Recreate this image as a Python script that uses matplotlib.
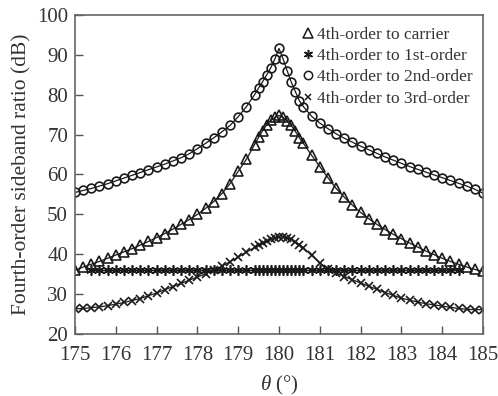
import matplotlib
matplotlib.use("Agg")
import matplotlib.pyplot as plt
from matplotlib.lines import Line2D

plt.rcParams['font.family'] = ['Liberation Serif', 'DejaVu Serif']
plt.rcParams['mathtext.fontset'] = 'custom'
plt.rcParams['mathtext.it'] = 'Liberation Serif:italic'
plt.rcParams['mathtext.rm'] = 'Liberation Serif'

theta = [175.0, 175.2, 175.4, 175.6, 175.8, 176.0, 176.2, 176.4, 176.6, 176.8,
         177.0, 177.2, 177.4, 177.6, 177.8, 178.0, 178.2, 178.4, 178.6, 178.8,
         179.0, 179.2, 179.4, 179.5, 179.6, 179.7, 179.8, 179.9, 180.0, 180.1,
         180.2, 180.3, 180.4, 180.5, 180.6, 180.8, 181.0, 181.2, 181.4, 181.6,
         181.8, 182.0, 182.2, 182.4, 182.6, 182.8, 183.0, 183.2, 183.4, 183.6,
         183.8, 184.0, 184.2, 184.4, 184.6, 184.8, 185.0]

to_carrier = [36.0, 36.8, 37.5, 38.2, 39.0, 39.8, 40.6, 41.4, 42.3, 43.2,
              44.2, 45.2, 46.3, 47.5, 48.7, 50.0, 51.5, 53.2, 55.2, 57.7,
              60.8, 63.8, 67.5, 69.3, 71.0, 72.5, 73.6, 74.3, 74.8, 74.3,
              73.5, 72.3, 70.8, 69.2, 67.8, 64.8, 62.0, 59.2, 56.5, 54.3,
              52.3, 50.5, 48.9, 47.5, 46.2, 45.0, 43.9, 42.8, 41.8, 40.8,
              39.9, 39.0, 38.2, 37.5, 36.8, 36.2, 35.7]

theta_1st = theta[2:54]
to_1st = [36.0, 36.0, 36.0, 36.0, 36.0, 36.0, 36.0, 36.0, 36.0, 36.0,
          36.0, 36.0, 36.0, 36.0, 36.0, 36.0, 36.0, 36.0, 36.0, 36.0,
          36.0, 36.0, 36.0, 36.0, 36.0, 36.0, 36.0, 36.0, 36.0, 36.0,
          36.0, 36.0, 36.0, 36.0, 36.0, 36.0, 36.0, 36.0, 36.0, 36.0,
          36.0, 36.0, 36.0, 36.0, 36.0, 36.0, 36.0, 36.0, 36.0, 36.0,
          36.0, 36.0]

to_2nd = [55.5, 56.0, 56.5, 57.1, 57.7, 58.4, 59.1, 59.8, 60.5, 61.2,
          61.9, 62.6, 63.4, 64.2, 65.2, 66.5, 67.8, 69.2, 70.7, 72.3,
          74.5, 77.0, 80.0, 81.7, 83.3, 85.0, 86.8, 89.0, 91.6, 89.0,
          86.0, 83.2, 80.8, 78.5, 77.0, 74.6, 72.9, 71.5, 70.2, 69.1,
          68.1, 67.1, 66.2, 65.3, 64.4, 63.6, 62.8, 62.0, 61.3, 60.6,
          59.9, 59.2, 58.5, 57.8, 57.1, 56.3, 55.3]

to_3rd = [26.3, 26.4, 26.6, 26.8, 27.1, 27.5, 27.9, 28.4, 28.9, 29.6,
          30.3, 31.1, 31.9, 32.7, 33.5, 34.3, 35.1, 36.0, 37.0, 38.1,
          39.3, 40.5, 41.7, 42.3, 42.8, 43.3, 43.7, 44.0, 44.3, 44.3,
          44.1, 43.7, 43.1, 42.4, 41.6, 39.7, 37.8, 36.4, 35.3, 34.4,
          33.6, 32.8, 32.0, 31.2, 30.4, 29.7, 29.0, 28.5, 28.0, 27.6,
          27.3, 27.0, 26.7, 26.4, 26.2, 26.1, 26.1]

labels = ['4th-order to carrier', '4th-order to 1st-order',
          '4th-order to 2nd-order', '4th-order to 3rd-order']
x_ticks = [175, 176, 177, 178, 179, 180, 181, 182, 183, 184, 185]
y_ticks = [20, 30, 40, 50, 60, 70, 80, 90, 100]

ink = '#1a1a1a'
txt = '#333333'
fig = plt.figure(figsize=(4.98, 3.96), dpi=100)
ax = fig.add_axes([75/498, 1-334/396, 408/498, 319/396])

common = dict(color=ink, lw=0.9, mfc='none', mec=ink, mew=1.2)
ax.plot(theta, to_carrier, marker='^', ms=7, **common)
ax.plot(theta_1st, to_1st, marker=(6, 2, 0), ms=7.5, **common)
ax.plot(theta, to_2nd, marker='o', ms=6.3, **common)
ax.plot(theta, to_3rd, marker='x', ms=5.8, **common)

ax.set_xlim(175, 185)
ax.set_ylim(20, 100)
ax.set_xticks(x_ticks)
ax.set_yticks(y_ticks)
ax.tick_params(direction='in', length=6, width=1, colors='#555555',
               labelcolor=txt, labelsize=15, top=False, right=False)
ax.tick_params(axis='x', pad=9)
ax.tick_params(axis='y', pad=5)
for s in ax.spines.values():
    s.set_color('#666666')
    s.set_linewidth(1.2)

ax.set_xlabel(r'$\mathit{\theta}$ (°)', fontsize=15, color=txt, labelpad=6)
ax.set_ylabel('Fourth-order sideband ratio (dB)', fontsize=15.5, color=txt, labelpad=4)

handles = [Line2D([], [], ls='none', marker='^', ms=6.5, mfc='none', mec=ink, mew=1.1),
           Line2D([], [], ls='none', marker=(6, 2, 0), ms=6.5, mfc='none', mec=ink, mew=1.1),
           Line2D([], [], ls='none', marker='o', ms=6, mfc='none', mec=ink, mew=1.1),
           Line2D([], [], ls='none', marker='x', ms=5, mfc='none', mec=ink, mew=1.1)]
leg = ax.legend(handles, labels, loc='upper left', bbox_to_anchor=(0.55, 0.975),
                frameon=False, fontsize=12.5, handlelength=0.6, handletextpad=0.2,
                labelspacing=0.3, borderpad=0.2, borderaxespad=0)
for t in leg.get_texts():
    t.set_color(txt)

fig.savefig('out.png', dpi=100)
